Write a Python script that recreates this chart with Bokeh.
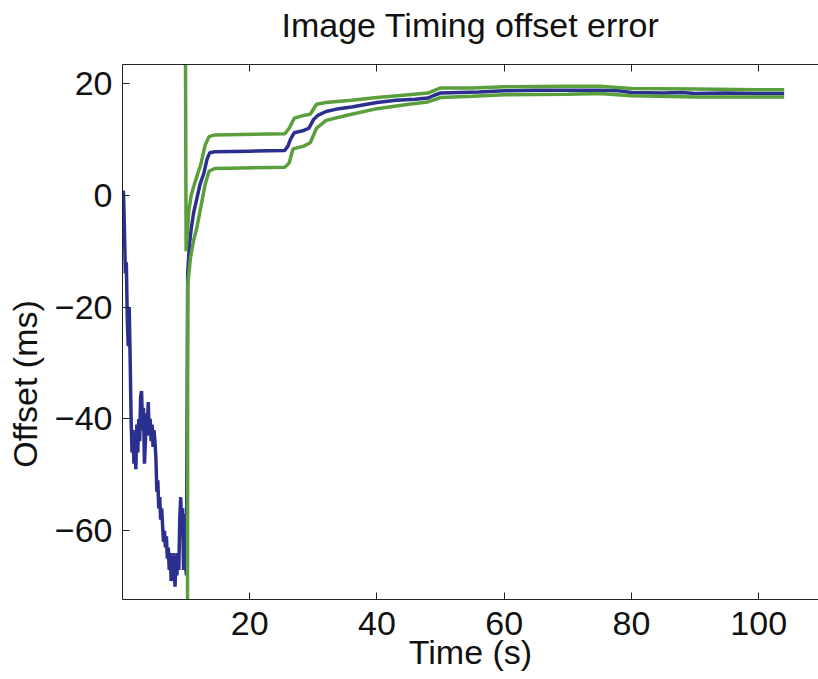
from bokeh.plotting import figure
from bokeh.models import LinearAxis, FixedTicker, Range1d
from bokeh.embed import file_html
from bokeh.resources import INLINE

# --- data ---
# raw offset before the filter starts (blue)
blue_pre_t = [0.0, 0.15, 0.3, 0.45, 0.6, 0.75, 0.9, 1.05, 1.2, 1.35, 1.5, 1.65, 1.8, 1.95,
              2.1, 2.25, 2.4, 2.55, 2.7, 2.85, 3.0, 3.15, 3.3, 3.45, 3.6, 3.75, 3.9, 4.05,
              4.2, 4.35, 4.5, 4.65, 4.8, 4.95, 5.1, 5.25, 5.4, 5.55, 5.7, 5.85, 6.0, 6.15,
              6.3, 6.45, 6.6, 6.75, 6.9, 7.05, 7.2, 7.35, 7.5, 7.65, 7.8, 7.95, 8.1, 8.25,
              8.4, 8.55, 8.7, 8.85, 9.0, 9.15, 9.3, 9.45, 9.6, 9.75, 9.9, 10.05]
blue_pre_v = [0.5, 0.8, -6, -14, -12, -22, -27, -20, -29, -40, -46, -42, -48, -45,
              -49, -41, -46, -40, -44, -36, -35, -42, -38, -48, -44, -39, -42, -37,
              -43, -40, -44, -41, -45, -42, -44, -47, -53, -51, -56, -54, -58, -56,
              -59, -62, -60, -63, -61, -65, -63, -67, -64, -69, -66, -68, -64, -70,
              -66, -68, -64, -67, -58, -54, -60, -56, -67, -57, -66, -68]
# filtered estimate (blue)
blue_t = [10.15, 10.25, 10.5, 10.8, 11.2, 11.7, 12.2, 12.8, 13.3, 13.7, 14.5, 20, 25.5,
          26.0, 26.4, 27.0, 28.5, 29.3, 30.0, 30.7, 32, 34, 36, 38, 40, 43, 46, 48, 49,
          50, 53, 56, 60, 65, 70, 75, 78, 80, 85, 88, 90, 95, 100, 104]
blue_v = [-40, -14, -9, -6, -3, -0.5, 2, 4, 6.5, 7.6, 7.8, 7.9, 8.0,
          8.8, 10, 11.2, 11.6, 12, 13.5, 14.3, 15.0, 15.5, 15.8, 16.2, 16.6, 17.0, 17.2, 17.4, 17.9,
          18.3, 18.4, 18.5, 18.7, 18.8, 18.8, 18.8, 18.7, 18.4, 18.3, 18.4, 18.2, 18.3, 18.2, 18.2]
# upper bound (green)
upper_t = [9.4, 10.0, 10.4, 10.8, 11.3, 12.3, 13.0, 13.6, 14.5, 25.5, 26.2, 27.0, 28.5,
           29.5, 30.5, 32, 36, 40, 45, 48, 50, 55, 60, 70, 75, 80, 90, 100, 104]
upper_v = [200, -10, -3, 0, 2, 5.5, 9, 10.5, 10.8, 11.0, 12, 13.8, 14.3,
           14.5, 16.3, 16.6, 17.0, 17.5, 18.0, 18.3, 19.2, 19.2, 19.4, 19.5, 19.5, 19.1, 19.0, 18.9, 18.9]
# lower bound (green)
lower_t = [10.15, 10.25, 10.7, 11.2, 11.7, 12.5, 13.0, 13.6, 14.5, 25.5, 26.2, 26.8, 28.5,
           29.5, 30.5, 32, 36, 40, 45, 48, 50, 55, 60, 70, 75, 80, 90, 100, 104]
lower_v = [-200, -16, -11, -8, -5.7, -1, 2, 4.3, 4.8, 5.0, 5.8, 8.3, 8.8,
           9.4, 12.0, 13.4, 14.5, 15.5, 16.3, 16.7, 17.5, 17.7, 18.0, 18.1, 18.2, 17.8, 17.6, 17.6, 17.6]

x_ticks = [20, 40, 60, 80, 100]
y_ticks = [-60, -40, -20, 0, 20]
title_text = "Image Timing offset error"

FONT = "Liberation Sans"
BLUE = "#2b2f8e"
GREEN = "#5a9f3c"

p = figure(width=818, height=679, output_backend="svg", toolbar_location=None,
           x_range=Range1d(0, 109.4), y_range=Range1d(-72.3, 23.4),
           x_axis_location=None, y_axis_location=None,
           min_border_left=122, min_border_right=0, min_border_top=64, min_border_bottom=80)
p.outline_line_color = None
p.grid.visible = False
p.background_fill_color = "white"
p.border_fill_color = "white"

def style_axis(ax):
    ax.axis_line_color = "#222222"
    ax.axis_line_width = 1
    ax.major_tick_in = 7
    ax.major_tick_out = 0
    ax.minor_tick_line_color = None
    ax.major_tick_line_color = "#222222"
    ax.major_label_text_font = FONT
    ax.major_label_text_font_size = "34px"
    ax.major_label_text_color = "#111111"
    ax.axis_label_text_font = FONT
    ax.axis_label_text_font_size = "34px"
    ax.axis_label_text_font_style = "normal"
    ax.axis_label_text_color = "#111111"

# the y title sits lower than the frame centre in the reference: trailing
# no-break spaces push the visible text down
left = LinearAxis(ticker=FixedTicker(ticks=y_ticks),
                  axis_label="Offset (ms)" + "\u00a0" * 11)
style_axis(left)
left.major_label_standoff = 10
left.axis_label_standoff = 8
left.major_label_overrides = {v: str(v).replace("-", "\u2212") for v in y_ticks}
p.add_layout(left, "left")

bottom = LinearAxis(ticker=FixedTicker(ticks=x_ticks), axis_label="Time (s)")
style_axis(bottom)
bottom.major_label_standoff = 12
bottom.axis_label_standoff = -5
p.add_layout(bottom, "below")

# top frame edge with inward ticks; the chart title is carried as its label
top = LinearAxis(ticker=FixedTicker(ticks=x_ticks), axis_label=title_text)
style_axis(top)
top.major_label_text_font_size = "2px"
top.major_label_overrides = {v: "" for v in x_ticks}
top.major_label_standoff = 0
top.axis_label_text_font_size = "34px"
top.axis_label_standoff = 21
p.add_layout(top, "above")

p.line(blue_pre_t + blue_t, blue_pre_v + blue_v, line_color=BLUE, line_width=3.5)
p.line(upper_t, upper_v, line_color=GREEN, line_width=3.5)
p.line(lower_t, lower_v, line_color=GREEN, line_width=3.5)

open("out.html", "w").write(file_html(p, INLINE))
